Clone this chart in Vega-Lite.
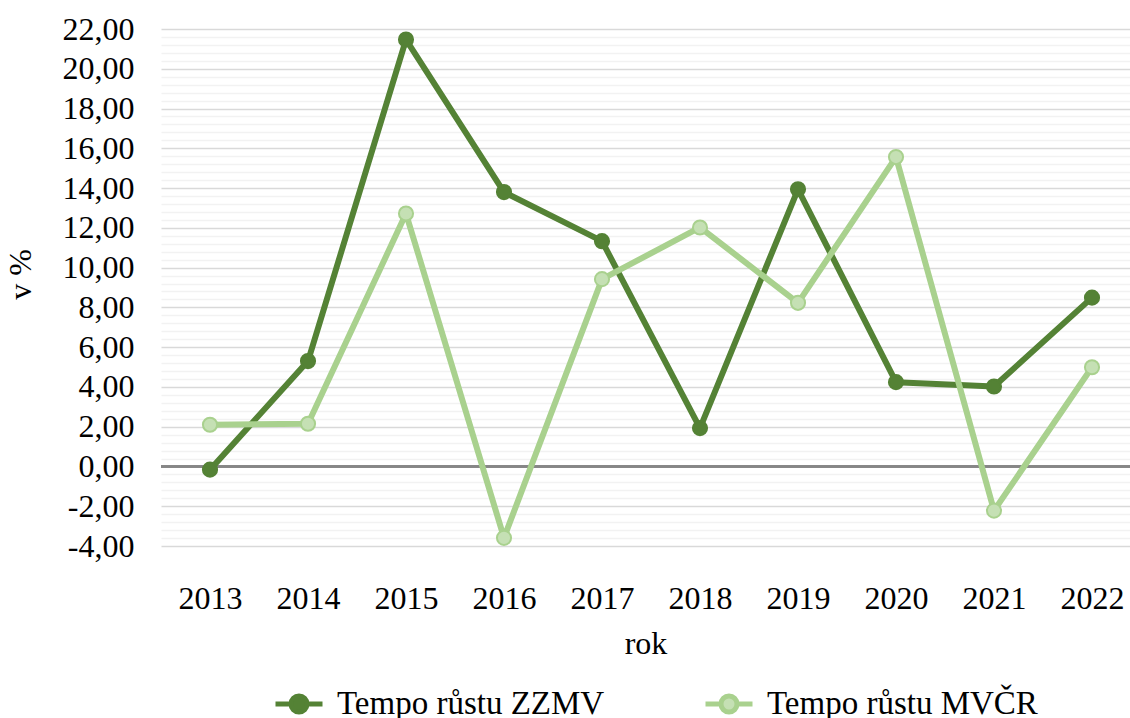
{
  "$schema": "https://vega.github.io/schema/vega-lite/v6.json",
  "autosize": {"type": "none"},
  "width": 969,
  "height": 517,
  "padding": {"left": 161, "top": 29, "right": 0, "bottom": 172},
  "background": "white",
  "config": {
    "font": "Liberation Serif",
    "view": {"stroke": null},
    "axis": {"labelFont": "Liberation Serif", "titleFont": "Liberation Serif", "labelColor": "#000000", "titleColor": "#000000", "titleFontWeight": "normal"},
    "legend": {"labelFont": "Liberation Serif", "labelColor": "#000000"}
  },
  "data": {
    "values": [
      {"rok": 2013, "serie": "Tempo růstu ZZMV", "hodnota": -0.16},
      {"rok": 2014, "serie": "Tempo růstu ZZMV", "hodnota": 5.3},
      {"rok": 2015, "serie": "Tempo růstu ZZMV", "hodnota": 21.47},
      {"rok": 2016, "serie": "Tempo růstu ZZMV", "hodnota": 13.8},
      {"rok": 2017, "serie": "Tempo růstu ZZMV", "hodnota": 11.33},
      {"rok": 2018, "serie": "Tempo růstu ZZMV", "hodnota": 1.93},
      {"rok": 2019, "serie": "Tempo růstu ZZMV", "hodnota": 13.94},
      {"rok": 2020, "serie": "Tempo růstu ZZMV", "hodnota": 4.24},
      {"rok": 2021, "serie": "Tempo růstu ZZMV", "hodnota": 4.02},
      {"rok": 2022, "serie": "Tempo růstu ZZMV", "hodnota": 8.49},
      {"rok": 2013, "serie": "Tempo růstu MVČR", "hodnota": 2.1},
      {"rok": 2014, "serie": "Tempo růstu MVČR", "hodnota": 2.15},
      {"rok": 2015, "serie": "Tempo růstu MVČR", "hodnota": 12.72},
      {"rok": 2016, "serie": "Tempo růstu MVČR", "hodnota": -3.59},
      {"rok": 2017, "serie": "Tempo růstu MVČR", "hodnota": 9.42},
      {"rok": 2018, "serie": "Tempo růstu MVČR", "hodnota": 12.02},
      {"rok": 2019, "serie": "Tempo růstu MVČR", "hodnota": 8.23},
      {"rok": 2020, "serie": "Tempo růstu MVČR", "hodnota": 15.56},
      {"rok": 2021, "serie": "Tempo růstu MVČR", "hodnota": -2.22},
      {"rok": 2022, "serie": "Tempo růstu MVČR", "hodnota": 4.99}
    ]
  },
  "encoding": {
    "x": {
      "field": "rok", "type": "quantitative",
      "scale": {"domain": [2012.5, 2022.3878], "nice": false, "zero": false},
      "axis": {"title": "rok", "values": [2013, 2014, 2015, 2016, 2017, 2018, 2019, 2020, 2021, 2022], "format": "d", "labelAngle": 0, "labelFontSize": 32, "titleFontSize": 32, "domain": false, "ticks": false, "grid": false, "labelPadding": 37, "titlePadding": 14, "labelFlush": false, "labelOverlap": false}
    },
    "y": {
      "field": "hodnota", "type": "quantitative",
      "scale": {"domain": [-4, 22], "nice": false, "zero": false},
      "axis": {
        "title": "v %", "titleFontSize": 32, "labelFontSize": 32, "domain": false, "ticks": false, "labelPadding": 27,
        "titleX": -124, "titleY": 245,
        "values": [-4, -3.6, -3.2, -2.8, -2.4, -2, -1.6, -1.2, -0.8, -0.4, 0, 0.4, 0.8, 1.2, 1.6, 2, 2.4, 2.8, 3.2, 3.6, 4, 4.4, 4.8, 5.2, 5.6, 6, 6.4, 6.8, 7.2, 7.6, 8, 8.4, 8.8, 9.2, 9.6, 10, 10.4, 10.8, 11.2, 11.6, 12, 12.4, 12.8, 13.2, 13.6, 14, 14.4, 14.8, 15.2, 15.6, 16, 16.4, 16.8, 17.2, 17.6, 18, 18.4, 18.8, 19.2, 19.6, 20, 20.4, 20.8, 21.2, 21.6, 22],
        "labelExpr": "datum.value % 2 === 0 ? replace((datum.value < 0 ? '-' : '') + format(abs(datum.value), '.2f'), '.', ',') : ''",
        "grid": true,
        "gridColor": {"condition": {"test": "datum.value % 2 === 0", "value": "#d9d9d9"}, "value": "#f2f2f2"},
        "gridWidth": 1.5,
        "labelOverlap": false
      }
    }
  },
  "layer": [
    {
      "mark": {"type": "rule", "color": "#868686", "strokeWidth": 1.5},
      "encoding": {"y": {"datum": 0}, "x": {"value": 0}, "x2": {"value": 969}}
    },
    {
      "mark": {"type": "line", "strokeWidth": 6, "strokeJoin": "round"},
      "encoding": {
        "color": {
          "field": "serie", "type": "nominal",
          "scale": {"domain": ["Tempo růstu ZZMV", "Tempo růstu MVČR"], "range": ["#548235", "#a9d18e"]},
          "legend": {
            "title": null, "orient": "none", "direction": "horizontal", "legendX": 112, "legendY": 649,
            "labelFontSize": 33, "labelOffset": 12, "columnPadding": 90, "labelLimit": 0,
            "symbolType": "M-1,0L-0.34,0M0.34,0L1,0M-0.34,0A0.34,0.34 0 1,1 0.34,0A0.34,0.34 0 1,1 -0.34,0Z",
            "symbolSize": 2209, "symbolStrokeWidth": 5,
            "encode": {"symbols": {"update": {"fill": {"signal": "datum.value === 'Tempo růstu ZZMV' ? '#548235' : '#c5e0b4'"}}}}
          }
        },
        "detail": {"field": "serie"}
      }
    },
    {
      "mark": {"type": "point", "filled": true, "size": 200, "strokeWidth": 2, "opacity": 1},
      "encoding": {
        "fill": {
          "field": "serie", "type": "nominal",
          "scale": {"domain": ["Tempo růstu ZZMV", "Tempo růstu MVČR"], "range": ["#548235", "#c5e0b4"]},
          "legend": null
        },
        "stroke": {
          "field": "serie", "type": "nominal",
          "scale": {"domain": ["Tempo růstu ZZMV", "Tempo růstu MVČR"], "range": ["#548235", "#a9d18e"]},
          "legend": null
        }
      }
    }
  ]
}
